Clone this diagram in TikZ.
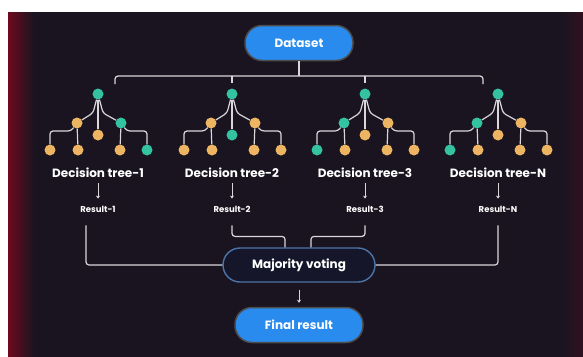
\documentclass[tikz,border=0pt]{standalone}
\usepackage{fontspec}
\setmainfont{Poppins}
\usetikzlibrary{positioning,arrows.meta}
\definecolor{bgdark}{HTML}{1A1420}
\definecolor{glow}{HTML}{6E0A1E}
\definecolor{mint}{HTML}{33C3A0}
\definecolor{amber}{HTML}{EDB562}
\definecolor{pillblue}{HTML}{2A8BEE}
\definecolor{voteedge}{HTML}{4C74A8}
\definecolor{votefill}{HTML}{15162A}
\definecolor{wire}{HTML}{D9D6DC}
\tikzset{
	dot/.style={circle,minimum size=11pt,inner sep=0pt},
	wireline/.style={draw=wire,line width=1.2pt,rounded corners=3pt},
	pill/.style={rounded corners=17pt,minimum height=35pt,text=white,font=\fontsize{12}{14}\selectfont\bfseries},
	treename/.style={text=white,inner sep=1pt,font=\fontsize{12}{14}\selectfont\bfseries},
	restext/.style={text=white,inner sep=1pt,font=\fontsize{8.5}{10}\selectfont\bfseries},
	downarrow/.style={draw=wire,line width=0.9pt,-{Stealth[length=3pt,width=4pt]}}
}
\newcommand{\dtree}[9]{%
	\begin{scope}[shift={(#2,94)}]
		\node[dot,fill=mint] (#1-root) at (0,0) {};
		\node[dot,fill=#3] (#1-l) at (-21,29) {};
		\node[dot,fill=#4] (#1-m) at (0,41) {};
		\node[dot,fill=#5] (#1-r) at (23,29) {};
		\node[dot,fill=#6] (#1-ll) at (-48,56) {};
		\node[dot,fill=#7] (#1-lr) at (-20,56) {};
		\node[dot,fill=#8] (#1-rl) at (22,56) {};
		\node[dot,fill=#9] (#1-rr) at (49,56) {};
		\draw[wireline] (#1-root) -- (-5,19) -- (#1-l);
		\draw[wireline] (#1-root) -- (#1-m);
		\draw[wireline] (#1-root) -- (5,19) -- (#1-r);
		\draw[wireline] (#1-l) -- (-27,37) -| (#1-ll);
		\draw[wireline] (#1-l) -- (#1-lr);
		\draw[wireline] (#1-r) -- (#1-rl);
		\draw[wireline] (#1-r) -- (29,37) -| (#1-rr);
	\end{scope}
}
\begin{document}
\begin{tikzpicture}[x=1pt,y=-1pt]
	\useasboundingbox (0,0) rectangle (583,356);
	\fill[white] (0,0) rectangle (583,356);
	\fill[bgdark] (8,12) rectangle (590,362);
	\shade[left color=glow,right color=bgdark] (8,12) rectangle (34,362);
	\shade[left color=bgdark,right color=glow!35!bgdark] (560,12) rectangle (590,362);

	\node[pill,fill=pillblue,draw=black!70,line width=1.5pt,minimum width=108pt] (data) at (299,43) {Dataset};
	\node[pill,fill=votefill,draw=voteedge,line width=1.4pt,minimum width=152pt,minimum height=34pt] (vote) at (299,265) {Majority voting};
	\node[pill,fill=pillblue,draw=black!70,line width=1.5pt,minimum width=128pt] (final) at (299,325) {Final result};

	\dtree{a}{98}{amber}{amber}{mint}{amber}{amber}{amber}{mint}
	\dtree{b}{232}{amber}{mint}{amber}{amber}{amber}{amber}{amber}
	\dtree{c}{365}{mint}{amber}{amber}{mint}{amber}{amber}{amber}
	\dtree{d}{498}{mint}{amber}{amber}{mint}{amber}{amber}{amber}

	\coordinate (hub) at (299,76);
	\coordinate (barL) at (115,84);
	\coordinate (barR) at (483,84);
	\draw[wireline] (data) -- (hub);
	\draw[wireline] (barL) |- (hub) -| (barR);
	\draw[wireline] (hub -| b-root) -- ++(0,7);
	\draw[wireline] (hub -| c-root) -- ++(0,7);

	\foreach \k/\x/\n in {a/98/1,b/232/2,c/365/3,d/498/N}{
		\node[treename] (\k-name) at (\x,173) {Decision tree-\n};
		\node[restext] (\k-res) at (\x,209) {Result-\n};
		\draw[downarrow] ([yshift=-4pt]\k-name.south) -- ([yshift=6pt]\k-res.north);
	}

	\draw[wireline] ([xshift=-12pt,yshift=-12pt]a-res.south) |- (vote.west);
	\draw[wireline] ([yshift=-12pt]b-res.south) -- ++(0,11) -| ([xshift=-14pt]vote.north);
	\draw[wireline] ([yshift=-12pt]c-res.south) -- ++(0,11) -| ([xshift=12pt]vote.north);
	\draw[wireline] ([yshift=-12pt]d-res.south) |- (vote.east);
	\draw[downarrow] ([yshift=-7pt]vote.south) -- ([yshift=4pt]final.north);
\end{tikzpicture}
\end{document}
